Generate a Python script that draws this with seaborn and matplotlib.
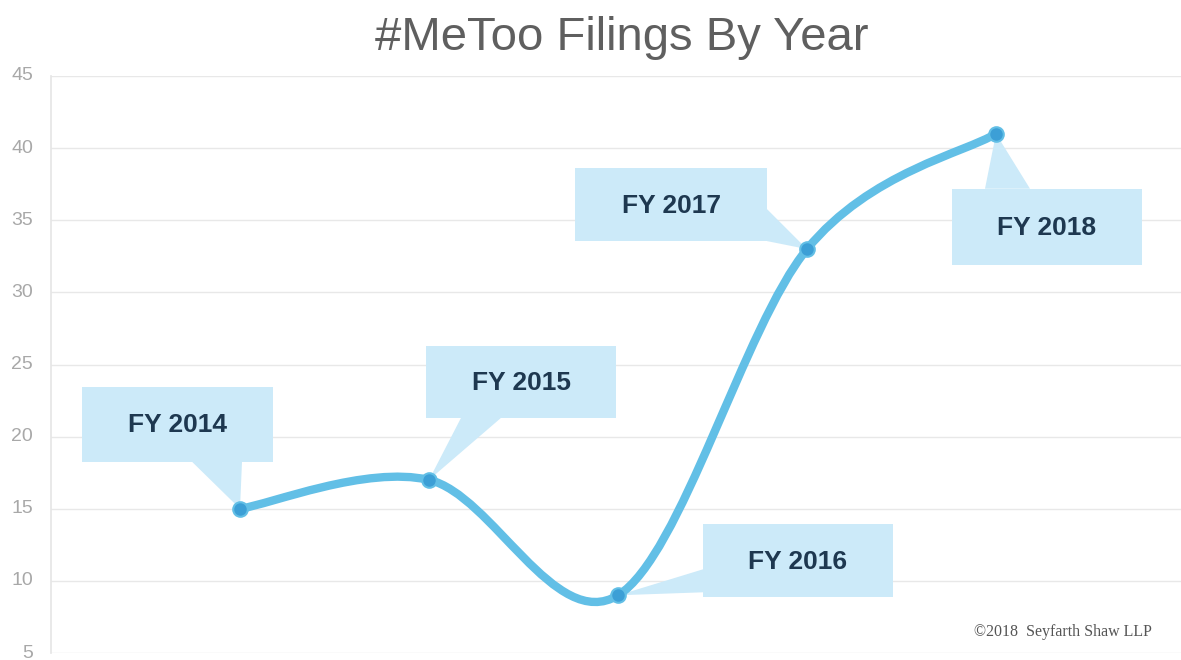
import numpy as np
import pandas as pd
import matplotlib
matplotlib.use("Agg")
import matplotlib.pyplot as plt
import matplotlib.transforms as mtransforms
from matplotlib.path import Path
from matplotlib.patches import PathPatch, Polygon
import seaborn as sns

# ---- data ----
years = ["FY 2014", "FY 2015", "FY 2016", "FY 2017", "FY 2018"]
filings = [15, 17, 9, 33, 41]
y_ticks = [5, 10, 15, 20, 25, 30, 35, 40, 45]
title = "#MeToo Filings By Year"
credit = "\u00a92018  Seyfarth Shaw LLP"

# ---- styling ----
sns.set_theme(style="white")
plt.rcParams["font.family"] = ["Liberation Sans", "DejaVu Sans"]

LINE_C = "#62BFE6"
MARK_C = "#3C9FD6"
BOX_C = "#CCEAF9"
TEXT_C = "#1E3850"

fig = plt.figure(figsize=(11.81, 6.60), dpi=100)
ax = fig.add_axes([51 / 1181, 1 - 653 / 660, 1 - 51 / 1181, (653 - 76) / 660])
ax.set_xlim(0, (1181 - 51) / 189.0)
ax.set_ylim(5, 45)
ax.set_yticks(y_ticks)
ax.set_xticks([])
ax.tick_params(axis="y", length=0, pad=13, labelsize=14, labelcolor="#A8A8A8")
ax.grid(axis="y", color="#E8E8E8", linewidth=1)
for s in ["top", "right", "bottom"]:
    ax.spines[s].set_visible(False)
ax.spines["left"].set_color("#E6E6E6")
ax.set_axisbelow(True)
# nudge tick labels up a little so the lowest one stays inside the figure
for lbl in ax.get_yticklabels():
    lbl.set_transform(lbl.get_transform() + mtransforms.ScaledTranslation(0, 2 / 100, fig.dpi_scale_trans))

df = pd.DataFrame({"pos": np.arange(1, len(filings) + 1), "filings": filings, "year": years})

# smooth (Catmull-Rom style Bezier) line through the points, like Excel's smoothed line
P = df[["pos", "filings"]].to_numpy(dtype=float)
ext = np.vstack([P[0], P, P[-1]])
verts = [tuple(P[0])]
codes = [Path.MOVETO]
for i in range(len(P) - 1):
    p0, p1, p2, p3 = ext[i], ext[i + 1], ext[i + 2], ext[i + 3]
    c1 = p1 + (p2 - p0) / 6.0
    c2 = p2 - (p3 - p1) / 6.0
    verts += [tuple(c1), tuple(c2), tuple(p2)]
    codes += [Path.CURVE4] * 3
ax.add_patch(PathPatch(Path(verts, codes), facecolor="none", edgecolor=LINE_C,
                       linewidth=6, capstyle="round", joinstyle="round", zorder=3))

sns.scatterplot(data=df, x="pos", y="filings", ax=ax, s=110, color=MARK_C,
                edgecolor=LINE_C, linewidth=1.5, zorder=4, legend=False)
ax.set_xlabel("")
ax.set_ylabel("")

# callout layout: box (x0, x1, y_top, y_bottom) and wedge base points, in pixel offsets from the point (y up)
callouts = [
    dict(box=(-158, 33, 122, 47), wedge=[(-48, 47), (2, 47)]),
    dict(box=(-3, 187, 134, 62), wedge=[(32, 62), (72, 62)]),
    dict(box=(85, 275, 71, -2), wedge=[(85, 26), (85, 3)]),
    dict(box=(-232, -40, 81, 8), wedge=[(-40, 40), (-40, 8)]),
    dict(box=(-44, 146, -55, -131), wedge=[(-11, -55), (34, -55)]),
]

for (xp, yp, lab), co in zip(zip(df["pos"], df["filings"], df["year"]), callouts):
    tr = mtransforms.IdentityTransform() + mtransforms.ScaledTranslation(xp, yp, ax.transData)
    x0, x1, yt, yb = co["box"]
    rect = Polygon([(x0, yb), (x1, yb), (x1, yt), (x0, yt)], closed=True,
                   facecolor=BOX_C, edgecolor="none", transform=tr, zorder=2, clip_on=False)
    wedge = Polygon([co["wedge"][0], co["wedge"][1], (0, 0)], closed=True,
                    facecolor=BOX_C, edgecolor="none", transform=tr, zorder=2, clip_on=False)
    ax.add_patch(rect)
    ax.add_patch(wedge)
    ax.text((x0 + x1) / 2, (yt + yb) / 2 - 1, lab, transform=tr, ha="center", va="center",
            fontsize=19, fontweight="bold", color=TEXT_C, zorder=5)

fig.text(622 / 1181, 1 - 38 / 660, title, ha="center", va="center", fontsize=34, color="#5F5F5F")
fig.text(1152 / 1181, 1 - 632 / 660, credit, ha="right", va="center", fontsize=11.5,
         color="#555555", family=["Liberation Serif", "DejaVu Serif"])

fig.savefig("out.png", dpi=100)
